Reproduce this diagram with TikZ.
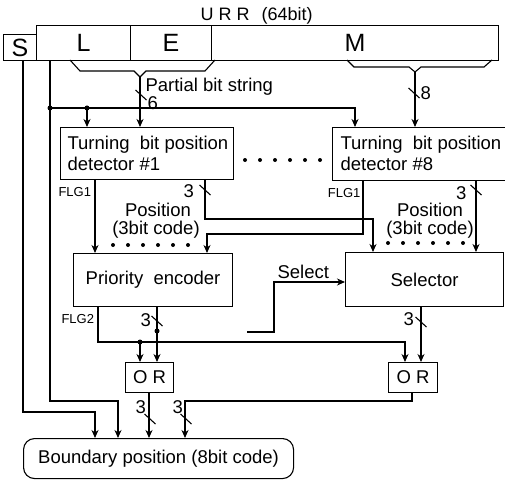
\documentclass[tikz,border=0pt]{standalone}
\usepackage{fontspec}
\setmainfont{Liberation Sans}
\usetikzlibrary{arrows.meta,calc}
\begin{document}
\begin{tikzpicture}[x=1pt,y=-1pt, line width=1.1pt,
  >={Stealth[length=8pt,width=7pt,inset=2.5pt]},
  box/.style={draw, anchor=north west, inner sep=0pt, font=\fontsize{18.5}{21}\selectfont},
  lbl/.style={inner sep=0pt, font=\fontsize{18.5}{21}\selectfont},
  big/.style={font=\fontsize{25}{28}\selectfont},
  small/.style={inner sep=0pt, font=\fontsize{13}{15}\selectfont},
  dot/.style={circle, fill, inner sep=0pt, minimum size=5pt},
  pdot/.style={circle, fill, inner sep=0pt, minimum size=4pt},
  busmark/.pic={\draw (-5.5,-5) -- (5.5,5);}
]
\useasboundingbox (0,0) rectangle (505,481);

% register
\node[box, big, minimum width=33pt, minimum height=26pt] (S) at (3,34) {S};
\node[box, big, minimum width=94pt, minimum height=35pt] (L) at (36,25) {L};
\node[box, big, minimum width=81pt, minimum height=35pt] (E) at (130,25) {E};
\node[box, big, minimum width=287pt, minimum height=35pt] (M) at (211,25) {M};
\node[lbl, font=\fontsize{18}{20}\selectfont, anchor=base west] (urr) at (200,21) {U R R\hspace{12pt}(64bit)};

% brackets
\coordinate (pbs) at (140,77);
\coordinate (mb) at (415,72);
\draw (70,60) -- (80,71) -- (134,71) -- (pbs) -- (146,71) -- (205,71) -- (215,60);
\draw (347,60) -- (354,67) -- (409,67) -- (mb) -- (421,67) -- (484,67) -- (492,60);

% boxes
\node[box, minimum width=173pt, minimum height=52pt] (det1) at (60,127) {};
\node[lbl, anchor=west, align=left] (det1t) at (67,153) {Turning\ \ bit position\\detector \#1};
\node[box, minimum width=190pt, minimum height=53pt] (det8) at (332,127) {};
\node[lbl, anchor=west, align=left] (det8t) at (340,153) {Turning\ \ bit position\\detector \#8};
\node[box, minimum width=159pt, minimum height=53pt] (pe) at (73,253) {Priority\ \ encoder};
\node[box, minimum width=158pt, minimum height=54pt] (sel) at (345,252) {Selector};
\node[box, minimum width=48pt, minimum height=30pt] (or1) at (125,362) {O R};
\node[box, minimum width=49pt, minimum height=30pt] (or2) at (388,362) {O R};
\node[box, rounded corners=11pt, minimum width=270pt, minimum height=40pt] (bnd) at (23,438) {Boundary position (8bit code)};

% partial bit string and M input
\draw[->] (pbs) -- (pbs |- det1.north);
\pic at (141,95) {busmark};
\node[lbl, anchor=base west] (pbslbl) at (145,92) {Partial bit string};
\node[lbl, anchor=base west] (six) at (147,110) {6};
\draw[->] (mb) -- (mb |- det8.north);
\pic at (414,93) {busmark};
\node[lbl, anchor=base west] (eight) at (420,100) {8};

% S line
\coordinate (s1) at (23,412);
\coordinate (s2) at (95,412);
\draw[->] (S.south -| s1) -- (s1) -- (s2) -- (s2 |- bnd.north);

% L line
\coordinate (l1) at (50,108);
\coordinate (l2) at (50,401);
\coordinate (l3) at (118,401);
\coordinate (l4) at (87,108);
\coordinate (l5) at (355,108);
\draw[->] (L.south -| l1) -- (l2) -- (l3) -- (l3 |- bnd.north);
\draw[->] (l1) -- (l5) -- (l5 |- det8.north);
\draw[->] (l4) -- (l4 |- det1.north);
\node[dot] (dl1) at (l1) {};
\node[dot] (dl4) at (l4) {};

% dots between detectors
\foreach \i in {0,...,5} \node[pdot] (dd\i) at (245+15*\i,160) {};

% detector 1 outputs
\coordinate (f1) at (95,0);
\draw[->] (det1.south -| f1) -- (f1 |- pe.north);
\node[small, anchor=base west] (flg1a) at (58,196) {FLG1};
\coordinate (p1a) at (205,219);
\coordinate (p1b) at (373,219);
\draw[->] (det1.south -| p1a) -- (p1a) -- (p1b) -- (p1b |- sel.north);
\pic at (205,190) {busmark};
\node[lbl, anchor=base west] (three1) at (183,197) {3};

% detector 8 outputs
\coordinate (f8a) at (363,234);
\coordinate (f8b) at (207,234);
\draw[->] (det8.south -| f8a) -- (f8a) -- (f8b) -- (f8b |- pe.north);
\node[small, anchor=base east] (flg1b) at (361,197) {FLG1};
\coordinate (p8) at (476,0);
\draw[->] (det8.south -| p8) -- (p8 |- sel.north);
\pic at (476,190) {busmark};
\node[lbl, anchor=base east] (three8) at (467,199) {3};

% position labels
\node[lbl, anchor=base] (pos1) at (158,216) {Position};
\node[lbl, anchor=base] (pos1b) at (156,234) {(3bit code)};
\node[lbl, anchor=base] (pos8) at (430,216) {Position};
\node[lbl, anchor=base] (pos8b) at (430,234) {(3bit code)};
\foreach \i in {0,...,5} \node[pdot] (pa\i) at (113+15*\i,245) {};
\foreach \i in {0,...,5} \node[pdot] (pb\i) at (388+15*\i,243) {};

% select
\coordinate (sa) at (247,332);
\coordinate (sb) at (274,332);
\coordinate (sc) at (274,282);
\draw[->] (sa) -- (sb) -- (sc) -- (sc -| sel.west);
\node[lbl, anchor=base west] (sellbl) at (277,278) {Select};

% FLG2
\coordinate (g1) at (98,342);
\coordinate (g2) at (405,342);
\coordinate (g3) at (140,342);
\draw[->] (pe.south -| g1) -- (g1) -- (g2) -- (g2 |- or2.north);
\draw[->] (g3) -- (g3 |- or1.north);
\node[dot] (dg3) at (g3) {};
\node[small, anchor=base west] (flg2) at (61,323) {FLG2};

% PE position
\coordinate (q1) at (157,331);
\draw[->] (pe.south -| q1) -- (q1 |- or1.north);
\node[dot] (dq1) at (q1) {};
\pic at (157,321) {busmark};
\node[lbl, anchor=base west] (three2) at (140,326) {3};

% selector position
\coordinate (q2) at (421,0);
\draw[->] (sel.south -| q2) -- (q2 |- or2.north);
\pic at (421,322) {busmark};
\node[lbl, anchor=base west] (three3) at (403,325) {3};

% OR outputs
\coordinate (o1) at (149,0);
\draw[->] (or1.south -| o1) -- (o1 |- bnd.north);
\pic at (150,419) {busmark};
\node[lbl, anchor=base west] (three4) at (135,413) {3};
\coordinate (o2a) at (412,401);
\coordinate (o2b) at (185,401);
\draw[->] (or2.south -| o2a) -- (o2a) -- (o2b) -- (o2b |- bnd.north);
\pic at (186,419) {busmark};
\node[lbl, anchor=base west] (three5) at (172,413) {3};
\end{tikzpicture}
\end{document}
